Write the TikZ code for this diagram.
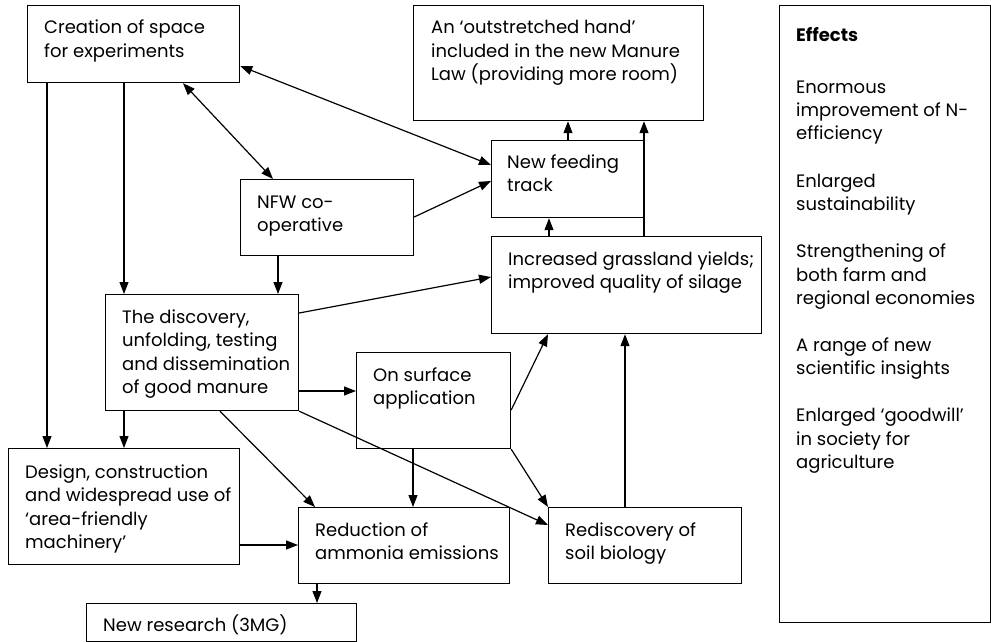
\documentclass[tikz,border=0pt]{standalone}
\usepackage{fontspec}
\setmainfont{Poppins}
\usetikzlibrary{arrows.meta,calc}
% rows of left-aligned text whose baseline is that of the first row
\newcommand\txtrows[1]{\vtop{\halign{##\hfil\cr#1\crcr}}}
\begin{document}
\begin{tikzpicture}[x=1pt,y=-1pt,
  box/.style={draw, line width=1.2pt, inner sep=0pt, anchor=north west},
  txt/.style={anchor=base west, inner sep=0pt,
    font=\fontsize{18}{23.5}\selectfont},
  tip/.tip={Triangle[length=12pt,width=9pt]},
  link/.style={line width=1.2pt, -tip},
  twoway/.style={line width=1.2pt, tip-tip}]
\useasboundingbox (0,0) rectangle (991,642);

% boxes (top-left corner, size)
\node[box, minimum width=212pt, minimum height=77pt]  (A) at (27,5)   {};
\node[box, minimum width=290pt, minimum height=115pt] (B) at (413,5)  {};
\node[box, minimum width=211pt, minimum height=617pt] (X) at (779,5)  {};
\node[box, minimum width=153pt, minimum height=77pt]  (C) at (491,140) {};
\node[box, minimum width=173pt, minimum height=76pt]  (E) at (240,179) {};
\node[box, minimum width=270pt, minimum height=97pt]  (D) at (491,236) {};
\node[box, minimum width=193pt, minimum height=116pt] (F) at (105,294) {};
\node[box, minimum width=154pt, minimum height=96pt]  (H) at (356,352) {};
\node[box, minimum width=231pt, minimum height=116pt] (G) at (8,448)   {};
\node[box, minimum width=211pt, minimum height=76pt]  (I) at (298,507) {};
\node[box, minimum width=193pt, minimum height=76pt]  (J) at (548,507) {};
\node[box, minimum width=270pt, minimum height=38pt]  (K) at (86,603)  {};

% box texts
\node[txt] (At) at ($(A.north west)+(17,29)$) {\txtrows{Creation of space\cr for experiments}};
\node[txt] (Bt) at ($(B.north west)+(18,29)$) {\txtrows{An ‘outstretched hand’\cr included in the new Manure\cr Law (providing more room)}};
\node[txt] (Ct) at ($(C.north west)+(16,28)$) {\txtrows{New feeding\cr track}};
\node[txt] (Et) at ($(E.north west)+(17,29)$) {\txtrows{NFW co-\cr operative}};
\node[txt] (Dt) at ($(D.north west)+(17,29)$) {\txtrows{Increased grassland yields;\cr improved quality of silage}};
\node[txt] (Ft) at ($(F.north west)+(17,29)$) {\txtrows{The discovery,\cr unfolding, testing\cr and dissemination\cr of good manure}};
\node[txt] (Ht) at ($(H.north west)+(17,29)$) {\txtrows{On surface\cr application}};
\node[txt] (Gt) at ($(G.north west)+(17,30)$) {\txtrows{Design, construction\cr and widespread use of\cr ‘area-friendly\cr machinery’}};
\node[txt] (It) at ($(I.north west)+(17,29)$) {\txtrows{Reduction of\cr ammonia emissions}};
\node[txt] (Jt) at ($(J.north west)+(17,29)$) {\txtrows{Rediscovery of\cr soil biology}};
\node[txt] (Kt) at ($(K.north west)+(17,28)$) {New research (3MG)};

% effects panel
\node[txt, font=\fontsize{18}{23.5}\selectfont\bfseries] (Xh) at ($(X.north west)+(17,37)$) {Effects};
\node[txt] (Xt) at ($(X.north west)+(17,88)$) {\txtrows{Enormous\cr improvement of N-\cr efficiency\cr\cr
  Enlarged\cr sustainability\cr\cr
  Strengthening of\cr both farm and\cr regional economies\cr\cr
  A range of new\cr scientific insights\cr\cr
  Enlarged ‘goodwill’\cr in society for\cr agriculture}};

% connectors
\draw[twoway] (A.east |- 0,66) -- (C.west |- 0,165);
\draw[twoway] (A.south -| 183,0) -- (E.north -| 273,0);
\draw[link] (E.east |- 0,217) -- (C.west |- 0,181);
\draw[link] (E.south -| 278,0) -- (F.north -| 278,0);
\draw[link] (A.south -| 124,0) -- (F.north -| 124,0);
\draw[link] (A.south -| 47,0) -- (G.north -| 47,0);
\draw[link] (F.east |- 0,313) -- (D.west |- 0,277);
\draw[link] (F.east |- 0,391) -- (H.west |- 0,391);
\draw[link] (F.south -| 124,0) -- (G.north -| 124,0);
\draw[link] (F.south -| 220,0) -- (I.north -| 315,0);
\draw[link] (F.south east) -- (J.west |- 0,525);
\draw[link] (H.east |- 0,410) -- (D.south -| 548,0);
\draw[link] (H.south -| 413,0) -- (I.north -| 413,0);
\draw[link] (H.south east) -- (J.north west);
\draw[link] (J.north -| 625,0) -- (D.south -| 625,0);
\draw[link] (D.north -| 549,0) -- (C.south -| 549,0);
\draw[link] (C.north -| 568,0) -- (B.south -| 568,0);
\draw[link] (D.north -| 644,0) -- (B.south -| 644,0);
\draw[link] (G.east |- 0,545) -- (I.west |- 0,545);
\draw[link] (I.south -| 317,0) -- (K.north -| 317,0);
\end{tikzpicture}
\end{document}
